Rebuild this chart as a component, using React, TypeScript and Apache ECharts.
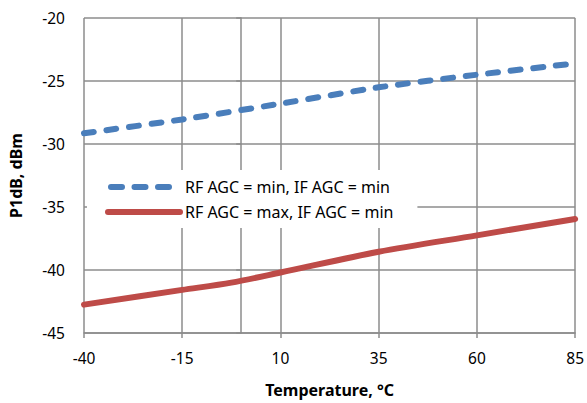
import React, { useEffect, useRef } from "react";
import * as echarts from "echarts";

const rfMinTemps = [-40, -15, 10, 35, 60, 85];
const rfMinValues = [-29.15, -28.05, -26.8, -25.5, -24.5, -23.6];
const rfMaxTemps = [-40, -15, -2.5, 10, 35, 60, 85];
const rfMaxValues = [-42.75, -41.58, -41.0, -40.2, -38.55, -37.25, -35.95];
const seriesNames = ["RF AGC = min, IF AGC = min", "RF AGC = max, IF AGC = min"];
const xTicks = { min: -40, max: 85, interval: 25 };
const yTicks = { min: -45, max: -20, interval: 5 };

const FONT = "'Noto Sans', sans-serif";
const BLUE = "#4a7ebb";
const RED = "#be4b48";

export default function App() {
  const ref = useRef<HTMLDivElement>(null);
  useEffect(() => {
    if (!ref.current) return;
    const chart = echarts.init(ref.current, undefined, { renderer: "svg" });
    const gridColor = "#8c8c8c";
    chart.setOption({
      animation: false,
      backgroundColor: "#ffffff",
      textStyle: { fontFamily: FONT },
      grid: { left: 77, right: 8, top: 18, bottom: 63, containLabel: false },
      legend: {
        orient: "vertical",
        left: 87,
        top: 170,
        backgroundColor: "#ffffff",
        padding: [9, 24, 8, 18],
        itemWidth: 72,
        itemHeight: 6,
        itemGap: 9,
        itemStyle: { opacity: 0 },
        lineStyle: { width: 6, cap: "round" },
        textStyle: { fontSize: 16, color: "#000", fontFamily: FONT },
        data: [
          { name: seriesNames[0], lineStyle: { type: [11, 12.5], dashOffset: -3, width: 6, cap: "round" } },
          { name: seriesNames[1], lineStyle: { type: "solid", width: 6, cap: "round" } },
        ],
      },
      xAxis: {
        type: "value",
        min: xTicks.min,
        max: xTicks.max,
        interval: xTicks.interval,
        name: "Temperature, °C",
        nameLocation: "middle",
        nameGap: 49,
        nameTextStyle: { fontSize: 16, fontWeight: "bold", color: "#000", fontFamily: FONT },
        axisLine: { show: true, lineStyle: { color: gridColor, width: 1.5 } },
        axisTick: { show: true, length: 5, inside: false, lineStyle: { color: gridColor, width: 1.5 } },
        axisLabel: { fontSize: 15.5, color: "#000", margin: 17, fontFamily: FONT },
        splitLine: { show: true, lineStyle: { color: gridColor, width: 1.5 } },
      },
      yAxis: {
        type: "value",
        min: yTicks.min,
        max: yTicks.max,
        interval: yTicks.interval,
        name: "P1dB, dBm",
        nameLocation: "middle",
        nameGap: 60,
        nameTextStyle: { fontSize: 16, fontWeight: "bold", color: "#000", fontFamily: FONT },
        axisLine: { show: true, lineStyle: { color: gridColor, width: 1.5 } },
        axisTick: { show: true, length: 5, inside: false, lineStyle: { color: gridColor, width: 1.5 } },
        axisLabel: { fontSize: 15.5, color: "#000", margin: 19, fontFamily: FONT },
        splitLine: { show: true, lineStyle: { color: gridColor, width: 1.5 } },
      },
      series: [
        {
          name: seriesNames[0],
          type: "line",
          data: rfMinTemps.map((t, i) => [t, rfMinValues[i]]),
          showSymbol: false,
          symbol: "none",
          smooth: 0.2,
          z: 3,
          itemStyle: { color: BLUE },
          lineStyle: { color: BLUE, width: 6, type: [10, 12.7], cap: "round" },
        },
        {
          name: seriesNames[1],
          type: "line",
          data: rfMaxTemps.map((t, i) => [t, rfMaxValues[i]]),
          showSymbol: false,
          symbol: "none",
          smooth: 0.3,
          z: 3,
          itemStyle: { color: RED },
          lineStyle: { color: RED, width: 6, cap: "round" },
        },
      ],
    });
    return () => chart.dispose();
  }, []);
  return <div ref={ref} style={{ width: 587, height: 403, position: "absolute", left: 0, top: 0 }} />;
}
